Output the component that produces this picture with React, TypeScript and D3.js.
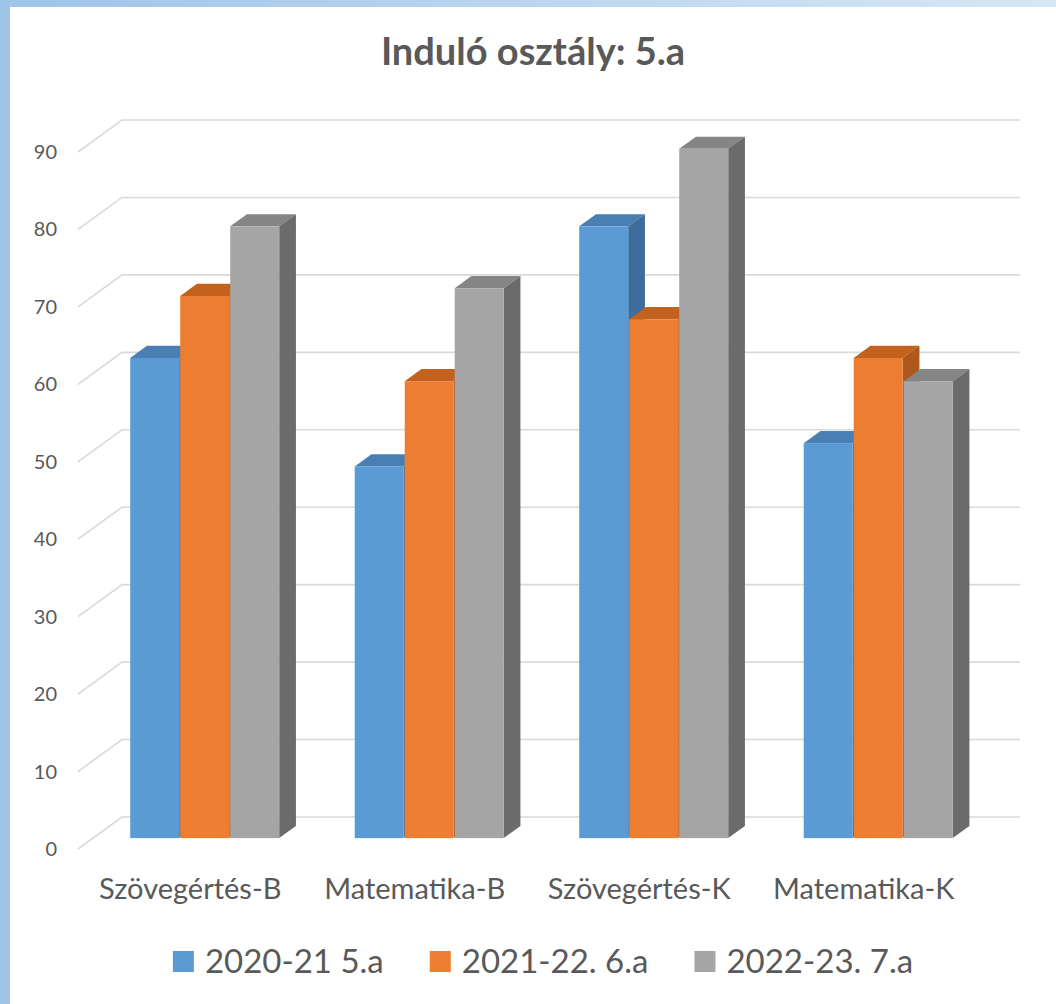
import React, { useEffect, useRef } from 'react';
import * as d3 from 'd3';

const categories = ['Szövegértés-B', 'Matematika-B', 'Szövegértés-K', 'Matematika-K'];
const seriesNames = ['2020-21 5.a', '2021-22. 6.a', '2022-23. 7.a'];
const values2020 = [62, 48, 79, 51];
const values2021 = [70, 59, 67, 62];
const values2022 = [79, 71, 89, 59];
const yTicks = [0, 10, 20, 30, 40, 50, 60, 70, 80, 90];

const App = () => {
  const chartRef = useRef(null);

  useEffect(() => {
    const svg = d3.select(chartRef.current);
    svg.selectAll('*').remove();

    const width = 1056;
    const height = 1004;
    const font = 'Lato, "Open Sans", sans-serif';
    const textColor = '#595959';

    // back wall of the 3d plot, floor depth goes toward the viewer
    const backLeft = 122;
    const backRight = 1020;
    const depthX = -44;
    const depthY = 32;
    const barFront = 0.66;
    const barBack = 0.28;

    const series = [
      { name: seriesNames[0], values: values2020, front: '#5b9bd5', top: '#4a7fb4', side: '#3e6d9b' },
      { name: seriesNames[1], values: values2021, front: '#ed7d31', top: '#c2621e', side: '#ae591b' },
      { name: seriesNames[2], values: values2022, front: '#a5a5a5', top: '#858585', side: '#6b6b6b' },
    ];

    svg.attr('width', width).attr('height', height);

    // background + frame
    const defs = svg.append('defs');
    const grad = defs.append('linearGradient').attr('id', 'topband').attr('x1', 0).attr('x2', 1);
    grad.append('stop').attr('offset', '0%').attr('stop-color', '#9fc4e8');
    grad.append('stop').attr('offset', '100%').attr('stop-color', '#d6e7f6');
    svg.append('rect').attr('width', width).attr('height', height).attr('fill', '#fff');
    svg.append('rect').attr('width', width).attr('height', 7).attr('fill', 'url(#topband)');
    svg.append('rect').attr('width', 10).attr('height', height).attr('fill', '#9fc5e8');

    svg.append('text')
      .attr('x', 533)
      .attr('y', 65)
      .attr('text-anchor', 'middle')
      .attr('font-family', font)
      .attr('font-weight', 'bold')
      .attr('font-size', '38px')
      .attr('fill', textColor)
      .text('Induló osztály: 5.a');

    const y = d3.scaleLinear().domain([0, 90]).range([817, 120]);
    const x0 = d3.scaleBand().domain(categories).range([backLeft, backRight]).padding(0);
    const x1 = d3.scaleBand()
      .domain(seriesNames)
      .range([0, x0.bandwidth()])
      .paddingInner(0)
      .paddingOuter(0.745);
    const xFront = d3.scaleBand().domain(categories).range([backLeft + depthX, backRight + depthX]);

    // gridlines: slanted on the side wall, flat on the back wall
    const grid = svg.append('g');
    yTicks.forEach(t => {
      grid.append('path')
        .attr('d', `M${backLeft + depthX},${y(t) + depthY}L${backLeft},${y(t)}L${backRight},${y(t)}`)
        .attr('fill', 'none')
        .attr('stroke', '#d9d9d9')
        .attr('stroke-width', 1.6);
      grid.append('text')
        .attr('x', 57)
        .attr('y', y(t) + depthY)
        .attr('dy', '0.35em')
        .attr('text-anchor', 'end')
        .attr('font-family', font)
        .attr('font-size', '20px')
        .attr('fill', textColor)
        .text(t);
    });

    // bars
    const bars = svg.append('g');
    categories.forEach((cat, ci) => {
      series.forEach(s => {
        const v = s.values[ci];
        const xb = x0(cat) + x1(s.name);
        const w = x1.bandwidth() - 1;
        const fx = xb + barFront * depthX;
        const fTop = y(v) + barFront * depthY;
        const fBot = y(0) + barFront * depthY;
        const bx = xb + barBack * depthX;
        const bTop = y(v) + barBack * depthY;
        const bBot = y(0) + barBack * depthY;
        const g = bars.append('g');
        g.append('path')
          .attr('d', `M${fx},${fTop}L${fx + w},${fTop}L${bx + w},${bTop}L${bx},${bTop}Z`)
          .attr('fill', s.top);
        g.append('path')
          .attr('d', `M${fx + w},${fTop}L${bx + w},${bTop}L${bx + w},${bBot}L${fx + w},${fBot}Z`)
          .attr('fill', s.side);
        g.append('rect')
          .attr('x', fx)
          .attr('y', fTop)
          .attr('width', w)
          .attr('height', fBot - fTop)
          .attr('fill', s.front);
      });
    });

    // category labels along the front edge of the floor
    categories.forEach(cat => {
      svg.append('text')
        .attr('x', xFront(cat) + xFront.bandwidth() / 2)
        .attr('y', 899)
        .attr('text-anchor', 'middle')
        .attr('font-family', font)
        .attr('font-size', '29px')
        .attr('fill', textColor)
        .text(cat);
    });

    // legend
    const legend = svg.append('g');
    let cursor = 0;
    series.forEach((s, i) => {
      const item = legend.append('g').attr('transform', `translate(${cursor},0)`);
      item.append('rect')
        .attr('x', 0)
        .attr('y', 951)
        .attr('width', 21)
        .attr('height', 21)
        .attr('fill', s.front);
      const txt = item.append('text')
        .attr('x', 32)
        .attr('y', 973)
        .attr('font-family', font)
        .attr('font-size', '33px')
        .attr('fill', textColor)
        .text(s.name);
      //@ts-ignore
      const tw = txt.node().getComputedTextLength();
      cursor += 32 + tw + (i < series.length - 1 ? 46 : 0);
    });
    legend.attr('transform', `translate(${543 - cursor / 2},0)`);
  }, []);

  return (
    <div style={{ position: 'absolute', top: 0, left: 0 }}>
      <svg ref={chartRef} style={{ display: 'block' }}></svg>
    </div>
  );
};

export default App;
